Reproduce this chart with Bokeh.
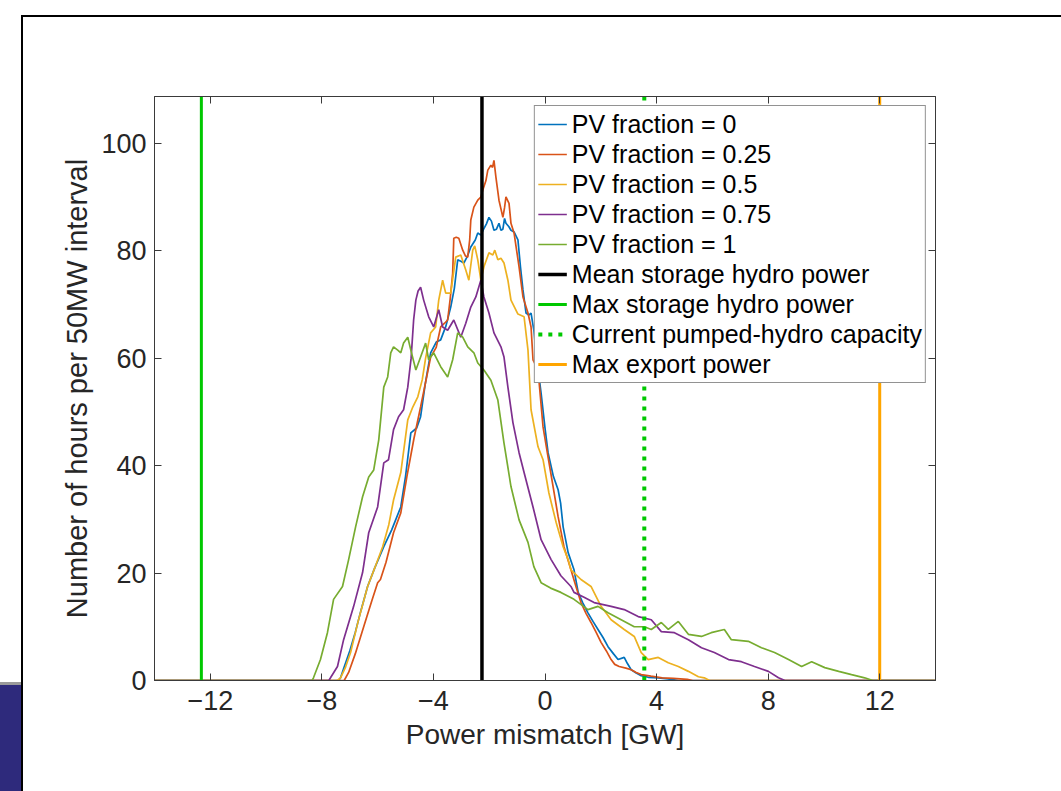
from bokeh.plotting import figure
from bokeh.models import Range1d, LinearAxis, FixedTicker, Legend, LegendItem, InlineStyleSheet
from bokeh.embed import file_html
from bokeh.resources import INLINE

FONT = "Liberation Sans"

# ---------------- data ----------------
pv0_x = [-14, -7.4, -7.33, -7.2, -7.0, -6.8, -6.6, -6.36, -6.1, -5.78, -5.5, -5.17, -5.0, -4.81, -4.6, -4.46,
         -4.3, -4.1, -3.9, -3.74, -3.55, -3.38, -3.25, -3.13, -3.0, -2.91, -2.78, -2.66, -2.5, -2.41, -2.3,
         -2.2, -2.1, -2.01, -1.92, -1.83, -1.74, -1.65, -1.58, -1.51, -1.45, -1.40, -1.3, -1.22, -1.11,
         -0.97, -0.88, -0.79, -0.68, -0.58, -0.5, -0.4, -0.3, -0.14, 0.0, 0.11, 0.3, 0.47, 0.56, 0.65,
         0.83, 1.04, 1.19, 1.35, 1.54, 1.72, 1.9, 2.08, 2.26, 2.45, 2.62, 2.84, 2.95, 3.09, 3.27, 3.45,
         3.7, 4.06, 4.4, 4.8, 14]
pv0_y = [0, 0, 0.5, 2.5, 5.5, 9, 13, 17.5, 21, 24.9, 28, 32.3, 38, 46.1, 47, 49.1,
         55, 61, 63, 63.4, 66, 69.5, 73, 78.3, 78, 77.7, 79, 80.7, 82, 83.3, 82.9,
         84, 85, 86.2, 85.5, 83.8, 84, 85.1, 83.8, 84, 86, 85.1, 84.5, 83.8, 83.5,
         82, 77, 72.7, 68.4, 68, 68.4, 65.2, 60, 53.5, 47, 42.4, 38, 35.5, 33, 28.6,
         23.8, 20.6, 16.4, 14.5, 12.6, 11, 9.5, 8, 6.3, 5, 3.9, 4.3, 3.2, 2.0, 1.4, 0.9,
         0.6, 0.5, 0.3, 0, 0]

pv025_x = [-14, -7.2, -7.04, -6.8, -6.5, -6.2, -6.0, -5.9, -5.7, -5.43, -5.17, -4.95, -4.7, -4.46, -4.3,
           -4.1, -3.9, -3.74, -3.6, -3.49, -3.4, -3.31, -3.27, -3.18, -3.09, -2.95, -2.85, -2.77, -2.7,
           -2.66, -2.55, -2.41, -2.3, -2.23, -2.12, -2.05, -1.94, -1.88, -1.83, -1.76, -1.65, -1.51,
           -1.45, -1.4, -1.29, -1.22, -1.11, -0.93, -0.79, -0.61, -0.5, -0.43, -0.25, -0.07, 0.11, 0.29,
           0.47, 0.68, 0.93, 1.11, 1.29, 1.47, 1.65, 1.83, 2.01, 2.2, 2.37, 2.5, 2.66, 2.9, 3.09, 3.27,
           3.45, 3.8, 4.2, 4.6, 5.1, 5.3, 14]
pv025_y = [0, 0, 1.5, 5, 10, 15, 18.2, 18.8, 22, 27.5, 31.2, 38, 45, 50.9, 55,
           60.2, 62, 65.8, 66.5, 67.1, 71, 75.8, 82.3, 82.5, 82.3, 80.1, 79, 78.8, 82,
           85.7, 88.1, 89.4, 90, 91.3, 93, 95, 95.9, 95.5, 96.8, 93.7, 89.4, 86.2,
           88, 90, 88.8, 85.1, 83.3, 77, 71.4, 68.4, 65.8, 59.7, 57.8, 47.2, 41.6, 36.1,
           30.5, 24.9, 20.6, 17.5, 14.5, 12.5, 10.8, 9, 7.1, 5.5, 3.9, 3.0, 2.6, 2.3, 2.0, 1.5,
           1.1, 0.8, 0.5, 0.4, 0.2, 0, 0]

pv05_x = [-14, -7.45, -7.33, -7.15, -6.97, -6.7, -6.36, -6.1, -5.82, -5.6, -5.43, -5.17, -4.92, -4.74,
          -4.56, -4.4, -4.28, -4.1, -3.92, -3.81, -3.67, -3.56, -3.38, -3.2, -3.02, -2.84, -2.73, -2.59,
          -2.52, -2.41, -2.3, -2.19, -2.01, -1.87, -1.8, -1.69, -1.58, -1.47, -1.33, -1.22, -0.97,
          -0.75, -0.61, -0.5, -0.25, -0.07, 0.14, 0.4, 0.65, 0.83, 0.93, 1.19, 1.29, 1.65, 2.01, 2.37,
          2.84, 3.2, 3.45, 3.7, 4.06, 4.42, 4.78, 5.14, 5.5, 5.71, 5.9, 14]
pv05_y = [0, 0, 0.5, 2.5, 5.2, 11, 17.5, 21, 24.9, 29, 33.6, 38.7, 48.5, 50.9,
          52.8, 56, 60, 64.7, 65.8, 70.8, 74.5, 72.1, 72.1, 78.8, 79.2, 76.4, 74.5, 80.1,
          80.9, 78.3, 74.5, 77, 79.6, 79.2, 80.1, 78.3, 78.6, 77.7, 74.5, 70.8, 68.2,
          67.7, 61.5, 50.4, 43.5, 41.1, 34.9, 29.4, 24.9, 22.5, 20.6, 19.3, 18.8, 17.5, 13.8, 11.3,
          9.5, 8.2, 5.2, 3.9, 4.3, 3.3, 2.6, 1.7, 0.7, 0.5, 0, 0]

pv075_x = [-14, -7.75, -7.69, -7.44, -7.22, -6.86, -6.54, -6.32, -6.0, -5.78, -5.61, -5.43, -5.25, -5.07,
           -4.92, -4.8, -4.71, -4.63, -4.55, -4.46, -4.35, -4.17, -3.99, -3.81, -3.67, -3.49, -3.27,
           -3.02, -2.84, -2.66, -2.48, -2.3, -2.19, -2.01, -1.83, -1.58, -1.47, -1.33, -1.15, -0.93,
           -0.75, -0.43, -0.14, 0.22, 0.57, 0.93, 1.04, 1.4, 1.76, 2.37, 2.84, 3.34, 3.81, 4.17, 4.64,
           5.14, 5.61, 6.07, 6.58, 7.04, 7.51, 8.01, 8.37, 8.6, 14]
pv075_y = [0, 0, 0.5, 2.6, 7.6, 13.8, 20.1, 27.5, 32.3, 40.5, 41.1, 46.7, 49.1, 50.4,
           54.6, 60, 67.1, 70.8, 72.5, 73.2, 70.8, 67.7, 65.8, 69, 65.8, 65.2, 67.1,
           63.9, 66.5, 69.5, 71.4, 74.5, 71.4, 68.4, 64.7, 62.1, 60.2, 54.6, 48, 42.4,
           38.7, 32.3, 26.2, 22.5, 19.5, 17.5, 16.4, 15.5, 14.5, 13.8, 13.2, 11.9, 11.3, 9.1, 8.9,
           7.6, 6.1, 5.2, 3.9, 3.5, 2.6, 1.7, 0.5, 0, 0]

pv1_x = [-14, -8.35, -8.3, -8.05, -7.8, -7.58, -7.26, -7.04, -6.79, -6.54, -6.32, -6.14, -5.96, -5.78,
         -5.64, -5.53, -5.43, -5.28, -5.17, -5.07, -4.92, -4.81, -4.63, -4.46, -4.28, -4.17, -3.99,
         -3.74, -3.49, -3.31, -3.13, -2.95, -2.77, -2.55, -2.41, -2.19, -1.94, -1.69, -1.47, -1.22,
         -0.93, -0.61, -0.4, -0.14, 0.2, 0.57, 1.04, 1.54, 1.9, 2.26, 2.73, 3.2, 3.56, 3.81, 4.17,
         4.42, 4.78, 5.14, 5.61, 5.96, 6.43, 6.68, 7.29, 7.76, 8.23, 8.73, 9.2, 9.56, 10.03, 10.53,
         10.99, 11.46, 11.75, 14]
pv1_y = [0, 0, 0.5, 3.9, 8.9, 15.1, 17.5, 22.5, 28.6, 34.2, 37.9, 39.2, 44.8, 54.6,
         56.5, 61, 62.1, 61.5, 61, 62.8, 63.9, 61.5, 57.8, 60.2, 62.8, 59.7, 61,
         58.4, 56.5, 59.7, 64.7, 63.9, 62.1, 61, 59.1, 57.8, 55.9, 52.2, 44.2, 36.1,
         29.9, 25.7, 21.2, 18.2, 17.2, 16.4, 15.1, 13.2, 13.8, 12.6, 11.3, 10.0, 10.0, 9.5, 10.8,
         9.5, 11.0, 8.6, 8.2, 8.9, 9.5, 7.6, 7.3, 6.1, 5.2, 3.9, 2.6, 3.5, 2.4, 1.7,
         1.1, 0.5, 0, 0]

series_labels = ["PV fraction = 0", "PV fraction = 0.25", "PV fraction = 0.5",
                 "PV fraction = 0.75", "PV fraction = 1"]
series_colors = ["#0072BD", "#D95319", "#EDB120", "#7E2F8E", "#77AC30"]

vline_labels = ["Mean storage hydro power", "Max storage hydro power",
                "Current pumped-hydro capacity", "Max export power"]
vline_x = [-2.26, -12.32, 3.56, 12.0]
vline_colors = ["#000000", "#00C800", "#00C800", "#FFA500"]

x_ticks = [-12, -8, -4, 0, 4, 8, 12]
y_ticks = [0, 20, 40, 60, 80, 100]
X_LO, X_HI = -14, 14
Y_LO, Y_HI = 0, 108.7

# ---------------- figure ----------------
AX = "#3a3a3a"
TXT = "#262626"

frame_css = InlineStyleSheet(css="""
:host::before {
  content: ""; position: absolute; left: 21px; top: 15px; right: 0; bottom: 0;
  border-top: 2px solid #000; border-left: 2px solid #000;
  pointer-events: none; z-index: 20;
}
:host::after {
  content: ""; position: absolute; left: 0; top: 682px; width: 21px; bottom: 0;
  background: #2e2a7c; border-top: 3px solid #9a9a9a;
  pointer-events: none; z-index: 20;
}
""")

p = figure(width=1061, height=791, output_backend="svg", toolbar_location=None,
           x_range=Range1d(X_LO, X_HI), y_range=Range1d(Y_LO, Y_HI),
           min_border_left=154, min_border_right=126, min_border_top=96, min_border_bottom=111,
           x_axis_label="Power mismatch [GW]", y_axis_label="Number of hours per 50MW interval",
           stylesheets=[frame_css])
p.grid.visible = False
p.outline_line_color = AX
p.background_fill_color = "white"
p.border_fill_color = "white"

for ax, ticks in ((p.xaxis[0], x_ticks), (p.yaxis[0], y_ticks)):
    ax.ticker = FixedTicker(ticks=ticks)
    ax.major_tick_in = 7
    ax.major_tick_out = 0
    ax.minor_tick_line_color = None
    ax.axis_line_color = AX
    ax.major_tick_line_color = AX
    ax.major_label_text_font = FONT
    ax.major_label_text_font_size = "27px"
    ax.major_label_text_color = TXT
    ax.axis_label_text_font = FONT
    ax.axis_label_text_font_style = "normal"
    ax.axis_label_text_color = TXT
p.xaxis[0].axis_label_text_font_size = "28px"
p.yaxis[0].axis_label_text_font_size = "29px"
p.xaxis[0].major_label_standoff = 10
p.xaxis[0].axis_label_standoff = 6
p.yaxis[0].major_label_standoff = 8
p.yaxis[0].axis_label_standoff = 5

top_ax = LinearAxis(ticker=FixedTicker(ticks=x_ticks), major_tick_in=7, major_tick_out=0,
                    minor_tick_line_color=None, axis_line_color=AX, major_tick_line_color=AX,
                    major_label_text_color=None)
right_ax = LinearAxis(ticker=FixedTicker(ticks=y_ticks), major_tick_in=7, major_tick_out=0,
                      minor_tick_line_color=None, axis_line_color=AX, major_tick_line_color=AX,
                      major_label_text_color=None)
p.add_layout(top_ax, "above")
p.add_layout(right_ax, "right")

items = []
for xs, ys, col, lab in zip([pv0_x, pv025_x, pv05_x, pv075_x, pv1_x],
                            [pv0_y, pv025_y, pv05_y, pv075_y, pv1_y],
                            series_colors, series_labels):
    r = p.line(xs, ys, line_color=col, line_width=1.7)
    items.append(LegendItem(label=lab, renderers=[r]))

for xv, col, lab in zip(vline_x, vline_colors, vline_labels):
    if lab.startswith("Current"):
        r = p.segment(x0=[xv], y0=[Y_LO], x1=[xv], y1=[Y_HI], line_color=col, line_width=4,
                      line_dash="4 6")
    elif lab.startswith("Mean"):
        r = p.segment(x0=[xv], y0=[Y_LO], x1=[xv], y1=[Y_HI], line_color=col, line_width=3.5)
    else:
        r = p.segment(x0=[xv], y0=[Y_LO], x1=[xv], y1=[Y_HI], line_color=col, line_width=3)
    items.append(LegendItem(label=lab, renderers=[r]))

legend = Legend(items=items, location="top_right", margin=9, padding=3, spacing=0,
                glyph_width=29, glyph_height=30, label_height=30, label_standoff=5,
                label_text_font=FONT, label_text_font_size="25px", label_text_color="#000000",
                border_line_color=TXT, border_line_width=1.5, background_fill_color="white",
                background_fill_alpha=1.0)
p.add_layout(legend)

open("out.html", "w").write(file_html(p, INLINE))
